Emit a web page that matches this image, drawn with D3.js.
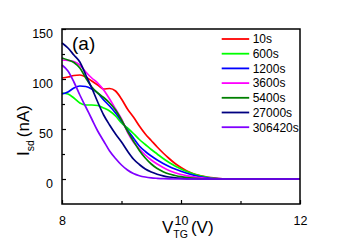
<!DOCTYPE html>
<html>
<head>
<meta charset="utf-8">
<script src="https://cdn.jsdelivr.net/npm/d3@7"></script>
<style>
body { margin: 0; background: #fff; }
svg { display: block; font-family: "Liberation Sans", Arial, sans-serif; }
</style>
</head>
<body>
<svg id="chart" width="349" height="245"></svg>
<script>
'use strict';

//Gate voltage grid (V), shared by all series.
const vtg = [8.0, 8.1, 8.2, 8.3, 8.4, 8.5, 8.6, 8.7, 8.8, 8.9,
	9.0, 9.1, 9.2, 9.3, 9.4, 9.5, 9.6, 9.7, 9.8, 9.9,
	10.0, 10.1, 10.2, 10.3, 10.4, 10.5, 10.6, 10.7, 10.8, 12.0];

//Source-drain current (nA) for each waiting time.
const i10 = [101, 102, 103.5, 104, 102, 98, 94, 90, 90.5, 88,
	80, 70, 62, 53, 45, 38.5, 32, 26, 20.5, 15.5,
	11.5, 8, 5.5, 3.8, 2.4, 1.3, 0.6, 0.2, 0, 0];
const i600 = [86, 85, 81, 76, 74, 74, 73.5, 71, 68, 63,
	56, 51, 45.5, 39.5, 34.5, 29.5, 25, 20.5, 16.5, 13,
	10, 7.5, 5.3, 3.5, 2.2, 1.2, 0.5, 0.2, 0, 0];
const i1200 = [85, 87, 91, 93, 92.5, 90, 86, 79, 73, 66,
	58, 49, 41, 33, 27.5, 23, 19, 15.5, 12.5, 10,
	7.8, 5.8, 4, 2.5, 1.4, 0.7, 0.3, 0.1, 0, 0];
const i3600 = [119, 118.5, 117.5, 114, 107, 101, 96, 89, 80, 70,
	60, 47, 37, 30, 24, 19, 15, 11.5, 8.5, 6.3,
	4.5, 3.2, 2.2, 1.3, 0.7, 0.3, 0.1, 0, 0, 0];
const i5400 = [121, 119, 116.5, 111, 101, 92, 86, 81.5, 76, 69,
	59, 48, 38, 28.5, 21, 15, 10.5, 7.3, 5, 3.5,
	2.3, 1.4, 0.8, 0.4, 0.1, 0, 0, 0, 0, 0];
const i27000 = [136, 131, 124, 117, 104, 91, 77, 64, 54, 45,
	37, 28, 20, 14.5, 10, 7, 4.8, 3.2, 2, 1.2,
	0.6, 0.2, 0, 0, 0, 0, 0, 0, 0, 0];
const i306420 = [114, 108, 97, 84, 72, 60, 48, 38, 28, 20.5,
	14, 9, 5.5, 3.3, 2, 1.2, 0.7, 0.3, 0.1, 0,
	0, 0, 0, 0, 0, 0, 0, 0, 0, 0];

const seriesNames = ['10s', '600s', '1200s', '3600s', '5400s', '27000s', '306420s'];
const seriesValues = [i10, i600, i1200, i3600, i5400, i27000, i306420];
const seriesColors = ['#ff0000', '#00ff00', '#0000ff', '#ff00ff', '#008000', '#000080', '#8000ff'];

const xTicks = [8, 9, 10, 11, 12];
const xLabels = [8, 10, 12];
const yTicks = [0, 25, 50, 75, 100, 125, 150];
const yLabels = [0, 50, 100, 150];

const margin = {top: 29, right: 49, bottom: 41, left: 62};
const width = 349;
const height = 245;
const innerWidth = width - margin.left - margin.right;
const innerHeight = height - margin.top - margin.bottom;

const svg = d3.select('#chart');
const g = svg.append('g').attr('transform', `translate(${margin.left},${margin.top})`);

const xScale = d3.scaleLinear().domain([8, 12]).range([0, innerWidth]);
const yScale = d3.scaleLinear().domain([-25, 150]).range([innerHeight, 0]);

//Curves.
const line = d3.line()
	.x((d) => xScale(d[0]))
	.y((d) => yScale(d[1]))
	.curve(d3.curveMonotoneX);

seriesValues.forEach((vals, i) => {
	g.append('path')
		.datum(vtg.map((v, j) => [v, vals[j]]))
		.attr('fill', 'none')
		.attr('stroke', seriesColors[i])
		.attr('stroke-width', 1.7)
		.attr('stroke-linejoin', 'round')
		.attr('d', line);
});

//x axis, ticks pointing inward. Unlabelled ticks lose their empty text.
const xAxis = d3.axisBottom(xScale)
	.tickValues(xTicks)
	.tickSize(-4)
	.tickPadding(12)
	.tickFormat(d3.format('d'));
const gx = g.append('g')
	.attr('transform', `translate(0,${innerHeight})`)
	.call(xAxis);
gx.select('.domain').remove();
gx.selectAll('line').attr('stroke', '#000').attr('stroke-width', 1.2);
gx.selectAll('.tick').filter((d) => !xLabels.includes(d)).each(function() {
	d3.select(this).select('line').attr('y2', -3);
	d3.select(this).select('text').remove();
});
gx.selectAll('text').style('font-size', '12.5px').attr('fill', '#000');

//y axis.
const yAxis = d3.axisLeft(yScale)
	.tickValues(yTicks)
	.tickSize(-4)
	.tickPadding(9)
	.tickFormat(d3.format('d'));
const gy = g.append('g').call(yAxis);
gy.select('.domain').remove();
gy.selectAll('line').attr('stroke', '#000').attr('stroke-width', 1.2);
gy.selectAll('.tick').filter((d) => !yLabels.includes(d)).each(function() {
	d3.select(this).select('line').attr('x2', 3);
	d3.select(this).select('text').remove();
});
gy.selectAll('text').style('font-size', '12.5px').attr('fill', '#000').attr('dy', '0.7em');

//Frame.
g.append('rect')
	.attr('width', innerWidth)
	.attr('height', innerHeight)
	.attr('fill', 'none')
	.attr('stroke', '#000')
	.attr('stroke-width', 1.5);

//Panel label.
g.append('text')
	.attr('x', 10)
	.attr('y', 21)
	.style('font-size', '19px')
	.text('(a)');

//Legend.
const legend = g.append('g').attr('transform', `translate(${221.7 - margin.left},${39 - margin.top})`);
seriesNames.forEach((name, i) => {
	const row = legend.append('g').attr('transform', `translate(0,${i * 14.7})`);
	row.append('line')
		.attr('x1', 0).attr('x2', 27.5)
		.attr('y1', 0).attr('y2', 0)
		.attr('stroke', seriesColors[i])
		.attr('stroke-width', 1.8);
	row.append('text')
		.attr('x', 31)
		.attr('y', 4.3)
		.style('font-size', '12px')
		.text(name);
});

//Axis titles.
const xTitle = svg.append('text')
	.attr('x', 162)
	.attr('y', 233)
	.style('font-size', '17px');
xTitle.append('tspan').text('V');
xTitle.append('tspan').attr('dy', 5).style('font-size', '10.5px').text('TG');
xTitle.append('tspan').attr('dy', -5).attr('dx', 3).text('(V)');

const yTitle = svg.append('text')
	.attr('transform', 'translate(29,156) rotate(-90)')
	.style('font-size', '17px');
yTitle.append('tspan').text('I');
yTitle.append('tspan').attr('dy', 5).style('font-size', '10.5px').text('sd');
yTitle.append('tspan').attr('dy', -5).attr('dx', 3).text('(nA)');
</script>
</body>
</html>
